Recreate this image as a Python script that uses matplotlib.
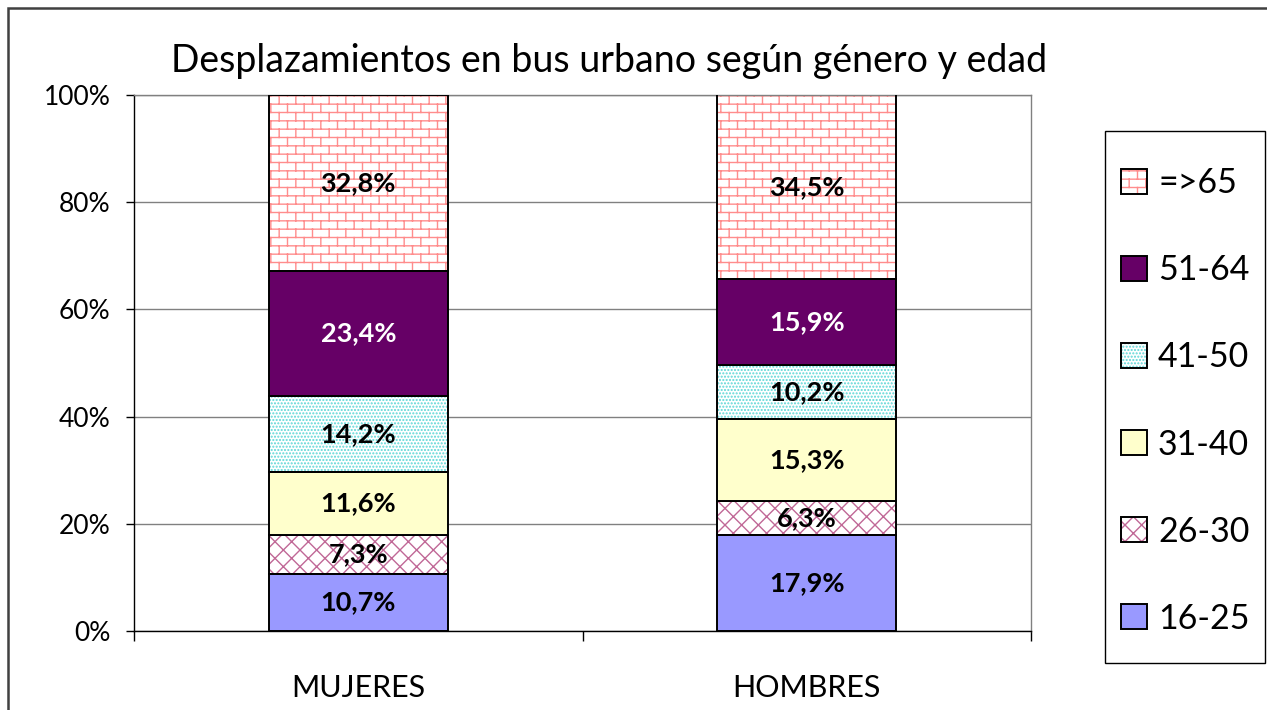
import warnings
import numpy as np
import matplotlib
matplotlib.use("Agg")
import matplotlib.pyplot as plt
import matplotlib.hatch as mhatch
from matplotlib.path import Path
from matplotlib.patches import Patch, Rectangle
from matplotlib.legend_handler import HandlerTuple
from matplotlib.ticker import FixedLocator, PercentFormatter

warnings.filterwarnings("ignore")

# ---------------- data ----------------
categories = ["MUJERES", "HOMBRES"]
age_groups = ["16-25", "26-30", "31-40", "41-50", "51-64", "=>65"]
v_16_25 = [10.7, 17.9]
v_26_30 = [7.3, 6.3]
v_31_40 = [11.6, 15.3]
v_41_50 = [14.2, 10.2]
v_51_64 = [23.4, 15.9]
v_65 = [32.8, 34.5]
series = [v_16_25, v_26_30, v_31_40, v_41_50, v_51_64, v_65]
title = "Desplazamientos en bus urbano según género y edad"
yticks = [0, 20, 40, 60, 80, 100]


# ---------------- custom brick hatch ----------------
class BrickHatch(mhatch.HatchPatternBase):
    def __init__(self, hatch, density):
        self.n = int(hatch.count('b') * density)
        if self.n % 2:
            self.n += 1
        self.cols = self.n // 2
        if self.n:
            self.num_vertices = 2 * self.n + 2 * (self.n + 1) * self.cols
        else:
            self.num_vertices = 0

    def set_vertices_and_codes(self, vertices, codes):
        n, cols = self.n, self.cols
        idx = 0
        for k in range(n):
            y = (k + 0.5) / n
            vertices[idx] = (0.0, y)
            vertices[idx + 1] = (1.0, y)
            codes[idx] = Path.MOVETO
            codes[idx + 1] = Path.LINETO
            idx += 2
        for k in range(-1, n):
            y0 = max((k + 0.5) / n, 0.0)
            y1 = min((k + 1.5) / n, 1.0)
            off = 0.5 * (k % 2)
            for j in range(cols):
                x = (j + off + 0.25) / cols
                vertices[idx] = (x, y0)
                vertices[idx + 1] = (x, y1)
                codes[idx] = Path.MOVETO
                codes[idx + 1] = Path.LINETO
                idx += 2


mhatch._hatch_types.append(BrickHatch)

# ---------------- styling ----------------
FONT = ["Lato", "DejaVu Sans"]
plt.rcParams['font.family'] = FONT
plt.rcParams['hatch.linewidth'] = 1.0

face_colors = ["#9999FF", "#FFFFFF", "#FFFFCC", "#FFFFFF", "#660066", "#FFFFFF"]
hatches = [None, "xx", None, ".....", None, "bb"]
hatch_colors = [None, "#C06896", None, "#5CD6D6", None, "#FF8C8C"]
label_colors = ["black", "black", "black", "black", "white", "black"]

W, H = 1267, 710
fig = plt.figure(figsize=(W / 100, H / 100), dpi=100)
ax = fig.add_axes([134 / W, 1 - 631 / H, (1031 - 134) / W, (631 - 95) / H])

x = np.arange(len(categories))
width = 0.40
bottom = np.zeros(len(categories))
handles = []
for vals, fc, hc, ht, lc, name in zip(series, face_colors, hatch_colors,
                                      hatches, label_colors, age_groups):
    vals = np.array(vals)
    if ht:
        ax.bar(x, vals, width, bottom=bottom, color=fc, edgecolor=hc,
               hatch=ht, linewidth=0, zorder=2)
    ax.bar(x, vals, width, bottom=bottom,
           color=(fc if not ht else "none"),
           edgecolor="black", linewidth=1.4, zorder=3)
    for xi, b, v in zip(x, bottom, vals):
        ax.text(xi, b + v / 2, f"{v:.1f}%".replace(".", ","),
                ha="center", va="center", fontsize=19.5, fontweight="bold",
                color=lc, zorder=4)
    if ht:
        h = (Patch(facecolor=fc, edgecolor=hc, hatch=ht, linewidth=0),
             Patch(facecolor="none", edgecolor="black", linewidth=1.4))
    else:
        h = Patch(facecolor=fc, edgecolor="black", linewidth=1.4)
    handles.append(h)
    bottom = bottom + vals

ax.set_xlim(-0.5, 1.5)
ax.set_ylim(0, 100)
ax.yaxis.set_major_locator(FixedLocator(yticks))
ax.yaxis.set_major_formatter(PercentFormatter(decimals=0))
ax.grid(axis="y", color="#808080", linewidth=1.0, zorder=0)
ax.set_axisbelow(True)

ax.set_xticks(x)
ax.set_xticklabels(categories)
ax.set_xticks([-0.5, 0.5, 1.5], minor=True)
ax.tick_params(axis="x", which="major", length=0, pad=31, labelsize=22)
ax.tick_params(axis="x", which="minor", length=7, width=1.0, color="black",
               direction="out")
ax.tick_params(axis="y", which="major", length=6, width=1.0, pad=11,
               labelsize=19, direction="out")

for s in ["top", "right"]:
    ax.spines[s].set_color("#808080")
    ax.spines[s].set_linewidth(1.0)
for s in ["left", "bottom"]:
    ax.spines[s].set_color("black")
    ax.spines[s].set_linewidth(1.0)

fig.text(609 / W, 1 - 61 / H, title, ha="center", va="center", fontsize=27)

# legend frame and legend
lx0, ly0, lx1, ly1 = 1105, 131, 1265, 663
fig.add_artist(Rectangle((lx0 / W, 1 - ly1 / H), (lx1 - lx0) / W,
                         (ly1 - ly0) / H, transform=fig.transFigure,
                         facecolor="white", edgecolor="black", linewidth=1.0))
leg = fig.legend(handles[::-1], age_groups[::-1],
                 handler_map={tuple: HandlerTuple(ndivide=1)},
                 loc="center left",
                 bbox_to_anchor=(1121 / W, 1 - 401 / H),
                 fontsize=24.5, frameon=False,
                 handlelength=0.76, handleheight=0.75, handletextpad=0.33,
                 labelspacing=1.62, borderpad=0, borderaxespad=0)

# outer chart frame
fig.add_artist(Rectangle((8 / W, -0.1), 1.2, 1.1 - 8 / H,
                         transform=fig.transFigure, fill=False,
                         edgecolor="#404040", linewidth=1.8))

fig.savefig("out.png", dpi=100)
